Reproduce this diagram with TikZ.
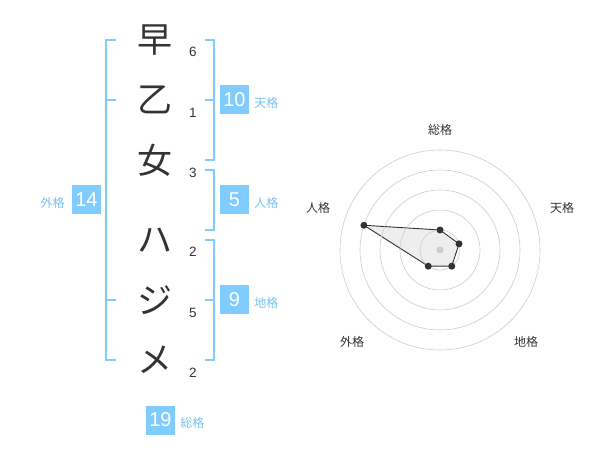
\documentclass[tikz,border=0pt]{standalone}
\usepackage{fontspec}
\setmainfont{Liberation Sans}
\newfontfamily\jp{Noto Sans CJK JP}
\usepackage{tikz}
\usetikzlibrary{positioning, backgrounds, calc}
\definecolor{ink}{HTML}{333333}
\definecolor{sky}{HTML}{80CCFF}
\definecolor{skytext}{HTML}{77C2EE}
\definecolor{ring}{HTML}{CCCCCC}
\definecolor{wash}{HTML}{EEEEEE}
\tikzset{
  %
  kanji/.style={font=\jp\fontsize{35}{35}\selectfont, text=ink, inner sep=0pt},
  strokes/.style={font=\fontsize{13.5}{14}\selectfont, text=ink, inner sep=0pt},
  %
  score/.style={fill=sky, text=white, minimum size=29pt, inner sep=0pt,
                font=\fontsize{20}{20}\selectfont},
  lbl/.style={font=\jp\fontsize{12}{12}\selectfont, text=skytext, inner sep=0pt,
              yshift=-3pt},
  bracket/.style={draw=sky, line width=2pt},
  %
  ringline/.style={draw=ring, line width=0.6pt},
  axislbl/.style={font=\jp\fontsize{12}{12}\selectfont, text=ink, inner sep=0pt},
  dot/.style={circle, fill=ink, minimum size=7pt, inner sep=0pt},
  polyarea/.style={draw=ink, line width=0.9pt, fill=wash},
}
\begin{document}
\begin{tikzpicture}[x=1pt, y=-1pt]
\useasboundingbox (0,0) rectangle (600,470);

% ---------------------------------------------------------------- name
\node[kanji] (c1) at (155,40)  {早};
\node[kanji] (c2) at (155,100) {乙};
\node[kanji] (c3) at (155,160) {女};
\node[kanji] (c4) at (155,240) {ハ};
\node[kanji] (c5) at (155,300) {ジ};
\node[kanji] (c6) at (155,360) {メ};

\node[strokes] (n1) at (193,52)  {6};
\node[strokes] (n2) at (193,113) {1};
\node[strokes] (n3) at (193,173) {3};
\node[strokes] (n4) at (193,252) {2};
\node[strokes] (n5) at (193,313) {5};
\node[strokes] (n6) at (193,373) {2};

% ------------------------------------------------------------- brackets
\draw[bracket] (116,40) -- (106,40) -- (106,360) -- (116,360);
\draw[bracket] (106,100) -- (116,100) (106,300) -- (116,300);

\draw[bracket] (205,40) -- (214,40) -- (214,160) -- (205,160);
\draw[bracket] (205,100) -- (214,100);
\draw[bracket] (205,170) -- (214,170) -- (214,230) -- (205,230);
\draw[bracket] (205,240) -- (214,240) -- (214,360) -- (205,360);
\draw[bracket] (205,300) -- (214,300);

% --------------------------------------------------------------- scores
\node[score] (sGai) at (86.5,200)  {14};
\node[score] (sTen) at (234.5,100) {10};
\node[score] (sJin) at (234.5,200) {5};
\node[score] (sChi) at (234.5,300) {9};
\node[score] (sSo)  at (160.5,420) {19};

\node[lbl, left=7pt of sGai]  (lGai) {外格};
\node[lbl, right=5pt of sTen] (lTen) {天格};
\node[lbl, right=5pt of sJin] (lJin) {人格};
\node[lbl, right=5pt of sChi] (lChi) {地格};
\node[lbl, right=5pt of sSo]  (lSo)  {総格};

% ---------------------------------------------------------------- radar
\coordinate (ctr) at (440,250);
\foreach \r in {20,40,60,80,100} { \draw[ringline] (ctr) circle[radius=\r]; }
\fill[ring] (ctr) circle[radius=3.5];

\node[axislbl] (aSo)  at (440,130) {総格};
\node[axislbl] (aTen) at (562,208) {天格};
\node[axislbl] (aJin) at (318,208) {人格};
\node[axislbl] (aGai) at (352,342) {外格};
\node[axislbl] (aChi) at (526,342) {地格};

\node[dot] (pSo)  at ($(ctr)+(-90:20)$)  {};
\node[dot] (pTen) at ($(ctr)+(-18:20)$)  {};
\node[dot] (pChi) at ($(ctr)+(54:20)$)   {};
\node[dot] (pGai) at ($(ctr)+(126:20)$)  {};
\node[dot] (pJin) at ($(ctr)+(198:80)$)  {};

\begin{scope}[on background layer]
  \draw[polyarea] (pSo.center) -- (pTen.center) -- (pChi.center)
    -- (pGai.center) -- (pJin.center) -- cycle;
\end{scope}

\end{tikzpicture}
\end{document}
